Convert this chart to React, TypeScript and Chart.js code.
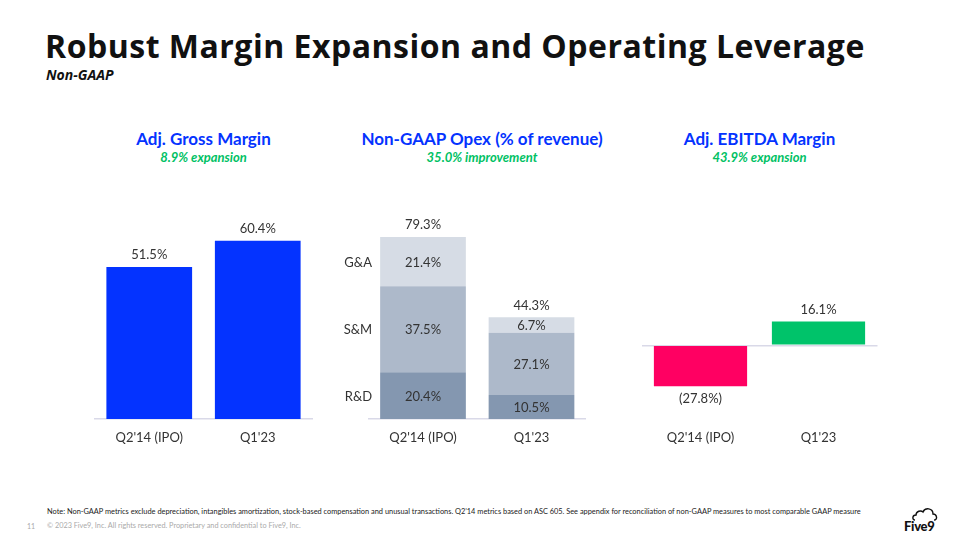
import React, { useEffect, useRef } from "react";
import { Chart, registerables } from "chart.js";

Chart.register(...registerables);

const FONT = "Lato, 'Open Sans', sans-serif";
const TITLE_FONT = "'Open Sans', Lato, sans-serif";

const categories = ["Q2'14 (IPO)", "Q1'23"];

const grossMargin = [51.5, 60.4];

const opexSeries = ["R&D", "S&M", "G&A"];
const opexRD = [20.4, 10.5];
const opexSM = [37.5, 27.1];
const opexGA = [21.4, 6.7];
const opexTotal = [79.3, 44.3];

const ebitdaMargin = [-27.8, 16.1];

const LABEL_COLOR = "#333333";
const AXIS_COLOR = "#D9D9E8";

const fmt = (v: number) => (v < 0 ? `(${Math.abs(v).toFixed(1)}%)` : `${v.toFixed(1)}%`);

const labelsPlugin = {
  id: "valueLabels",
  afterDatasetsDraw(chart: any, _args: any, opts: any) {
    const ctx = chart.ctx;
    ctx.save();
    ctx.font = `13px ${FONT}`;
    ctx.fillStyle = LABEL_COLOR;
    ctx.textAlign = "center";
    ctx.textBaseline = "middle";
    const mode = opts.mode;
    const nDs = chart.data.datasets.length;
    chart.data.datasets.forEach((ds: any, di: number) => {
      const meta = chart.getDatasetMeta(di);
      meta.data.forEach((bar: any, i: number) => {
        const v = ds.data[i];
        if (mode === "stack") {
          ctx.fillText(fmt(v), bar.x, (bar.y + bar.base) / 2 + 1);
          if (di === nDs - 1) {
            ctx.fillText(fmt(opts.totals[i]), bar.x, bar.y - 12);
          }
          if (i === 0) {
            ctx.textAlign = "right";
            ctx.fillText(ds.label, bar.x - bar.width / 2 - 8, (bar.y + bar.base) / 2 + 1);
            ctx.textAlign = "center";
          }
        } else {
          if (v >= 0) ctx.fillText(fmt(v), bar.x, bar.y - 12);
          else ctx.fillText(fmt(v), bar.x, bar.y + 13);
        }
      });
    });
    ctx.restore();
  },
};

type Pad = { left: number; right: number };

function BarChart(props: {
  left: number;
  width: number;
  pad: Pad;
  datasets: any[];
  min: number;
  max: number;
  stacked?: boolean;
  zeroLine?: boolean;
  pluginOpts: any;
}) {
  const ref = useRef<HTMLCanvasElement | null>(null);
  useEffect(() => {
    if (!ref.current) return;
    const chart = new Chart(ref.current, {
      type: "bar",
      data: { labels: categories, datasets: props.datasets },
      options: {
        animation: false,
        responsive: false,
        maintainAspectRatio: false,
        layout: { padding: { left: props.pad.left, right: props.pad.right, top: 22.5, bottom: 0 } },
        plugins: {
          legend: { display: false },
          tooltip: { enabled: false },
          valueLabels: props.pluginOpts,
        } as any,
        scales: {
          x: {
            stacked: !!props.stacked,
            grid: { display: false, drawTicks: false },
            border: props.zeroLine
              ? { display: false }
              : { display: true, color: AXIS_COLOR, width: 1.5 },
            ticks: {
              color: LABEL_COLOR,
              font: { family: FONT, size: 13 },
              padding: 11,
              maxRotation: 0,
            },
            afterFit: (s: any) => {
              s.height = 31;
            },
          },
          y: {
            stacked: !!props.stacked,
            display: !!props.zeroLine,
            min: props.min,
            max: props.max,
            ticks: { display: false, stepSize: 10 },
            border: { display: false },
            grid: {
              drawTicks: false,
              lineWidth: 1.5,
              color: (c: any) => (c.tick && c.tick.value === 0 ? AXIS_COLOR : "rgba(0,0,0,0)"),
            },
            afterFit: (s: any) => {
              s.width = 0;
            },
          },
        },
      },
      plugins: [labelsPlugin],
    } as any);
    return () => chart.destroy();
  }, []);
  return (
    <canvas
      ref={ref}
      width={props.width}
      height={260}
      style={{ position: "absolute", left: props.left, top: 190, width: props.width, height: 260 }}
    />
  );
}

const T = (p: { x: number; y: number; children: any; style?: any; center?: boolean }) => (
  <div
    style={{
      position: "absolute",
      left: p.x,
      top: p.y,
      lineHeight: 1,
      whiteSpace: "nowrap",
      transform: p.center ? "translate(-50%,-50%)" : "translate(0,-50%)",
      fontFamily: FONT,
      ...p.style,
    }}
  >
    {p.children}
  </div>
);

const BLUE = "#0433FF";
const GREEN = "#00C164";

export default function App() {
  const barPct = { barPercentage: 0.79, categoryPercentage: 1 };
  return (
    <div style={{ position: "relative", width: 960, height: 540, margin: -8, background: "#fff", overflow: "hidden" }}>
      <T x={45} y={46} style={{ fontSize: 32, fontWeight: 700, color: "#111", fontFamily: TITLE_FONT, letterSpacing: 0.5 }}>
        Robust Margin Expansion and Operating Leverage
      </T>
      <T x={46} y={75} style={{ fontSize: 14, fontWeight: 700, fontStyle: "italic", color: "#111", fontFamily: TITLE_FONT }}>
        Non-GAAP
      </T>

      <T x={203.5} y={138} center style={{ fontSize: 17, fontWeight: 700, color: BLUE }}>
        Adj. Gross Margin
      </T>
      <T x={203.5} y={157} center style={{ fontSize: 13, fontWeight: 700, fontStyle: "italic", color: GREEN }}>
        8.9% expansion
      </T>
      <T x={482} y={138} center style={{ fontSize: 17, fontWeight: 700, color: BLUE }}>
        Non-GAAP Opex (% of revenue)
      </T>
      <T x={482} y={157} center style={{ fontSize: 13, fontWeight: 700, fontStyle: "italic", color: GREEN }}>
        35.0% improvement
      </T>
      <T x={759.5} y={138} center style={{ fontSize: 17, fontWeight: 700, color: BLUE }}>
        Adj. EBITDA Margin
      </T>
      <T x={759.5} y={157} center style={{ fontSize: 13, fontWeight: 700, fontStyle: "italic", color: GREEN }}>
        43.9% expansion
      </T>

      <BarChart
        left={85}
        width={240}
        pad={{ left: 10, right: 13 }}
        min={0}
        max={70}
        datasets={[{ data: grossMargin, backgroundColor: BLUE, ...barPct }]}
        pluginOpts={{ mode: "single" }}
      />
      <BarChart
        left={330}
        width={270}
        pad={{ left: 38.75, right: 14.25 }}
        min={0}
        max={90}
        stacked
        datasets={[
          { label: opexSeries[0], data: opexRD, backgroundColor: "#8497B0", ...barPct },
          { label: opexSeries[1], data: opexSM, backgroundColor: "#ADB9CA", ...barPct },
          { label: opexSeries[2], data: opexGA, backgroundColor: "#D6DCE5", ...barPct },
        ]}
        pluginOpts={{ mode: "stack", totals: opexTotal }}
      />
      <BarChart
        left={630}
        width={260}
        pad={{ left: 11.5, right: 12.5 }}
        min={-50}
        max={90}
        zeroLine
        datasets={[{ data: ebitdaMargin, backgroundColor: ["#FF0062", "#00C36A"], ...barPct }]}
        pluginOpts={{ mode: "single" }}
      />

      <T x={47} y={512} style={{ fontSize: 7.4, color: "#222" }}>
        Note: Non-GAAP metrics exclude depreciation, intangibles amortization, stock-based compensation and unusual transactions. Q2’14 metrics based on ASC 605. See appendix for reconciliation of non-GAAP measures to most comparable GAAP measure
      </T>
      <T x={27} y={526} style={{ fontSize: 7, color: "#aaa" }}>
        11
      </T>
      <T x={47} y={526} style={{ fontSize: 7.3, color: "#aaa" }}>
        © 2023 Five9, Inc. All rights reserved. Proprietary and confidential to Five9, Inc.
      </T>
      <svg style={{ position: "absolute", left: 912, top: 507 }} width={26} height={14} viewBox="0 0 26 14">
        <path
          d="M3 13 C0 13 0 8 4 8 C4 4 9 3 11 5 C13 0 21 1 21 7 C25 7 26 13 22 13"
          fill="none"
          stroke="#111"
          strokeWidth={1.4}
        />
      </svg>
      <T x={904} y={526} style={{ fontSize: 13, fontWeight: 900, color: "#111", letterSpacing: -0.3 }}>
        Five9
      </T>
    </div>
  );
}
